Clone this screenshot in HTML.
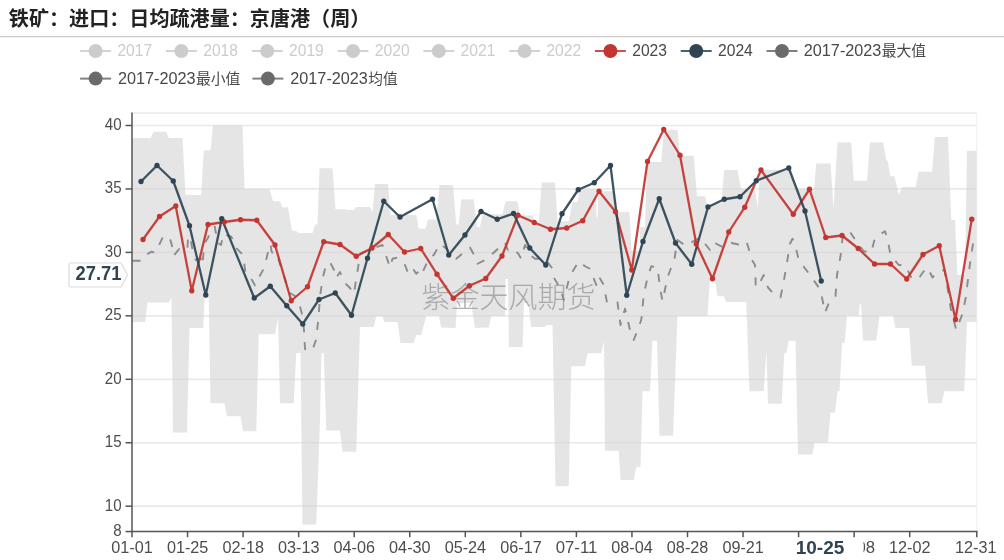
<!DOCTYPE html>
<html lang="zh"><head><meta charset="utf-8"><title>铁矿：进口：日均疏港量：京唐港（周）</title>
<style>
html,body{margin:0;padding:0;background:#fff;}
body{width:1004px;height:560px;overflow:hidden;font-family:"Liberation Sans", "Noto Sans CJK SC", sans-serif;}
svg{display:block;}
text{font-family:"Liberation Sans", "Noto Sans CJK SC", sans-serif;}
.ax{font-size:16.4px;fill:#4d4d4d;}
.lg{font-size:16.4px;fill:#484848;}
.lgo{font-size:16.4px;fill:#ccc;}
</style></head><body>
<svg width="1004" height="560" viewBox="0 0 1004 560">
<rect width="1004" height="560" fill="#fff"/>
<text x="8.8" y="25.6" font-size="20" font-weight="bold" fill="#222" textLength="361.5" lengthAdjust="spacingAndGlyphs">铁矿：进口：日均疏港量：京唐港（周）</text>
<rect x="0" y="36" width="1004" height="1.25" fill="#ccc"/>
<g opacity="1"><line x1="80.1" y1="51" x2="111.1" y2="51" stroke="#ccc" stroke-width="2" opacity="0.85"/><circle cx="95.6" cy="51" r="7" fill="#ccc"/></g>
<text x="117.4" y="56.0" class="lgo" textLength="34.8" lengthAdjust="spacingAndGlyphs">2017</text>
<g opacity="1"><line x1="165.9" y1="51" x2="196.9" y2="51" stroke="#ccc" stroke-width="2" opacity="0.85"/><circle cx="181.4" cy="51" r="7" fill="#ccc"/></g>
<text x="203.2" y="56.0" class="lgo" textLength="34.8" lengthAdjust="spacingAndGlyphs">2018</text>
<g opacity="1"><line x1="251.7" y1="51" x2="282.7" y2="51" stroke="#ccc" stroke-width="2" opacity="0.85"/><circle cx="267.2" cy="51" r="7" fill="#ccc"/></g>
<text x="289.0" y="56.0" class="lgo" textLength="34.8" lengthAdjust="spacingAndGlyphs">2019</text>
<g opacity="1"><line x1="337.5" y1="51" x2="368.5" y2="51" stroke="#ccc" stroke-width="2" opacity="0.85"/><circle cx="353.0" cy="51" r="7" fill="#ccc"/></g>
<text x="374.8" y="56.0" class="lgo" textLength="34.8" lengthAdjust="spacingAndGlyphs">2020</text>
<g opacity="1"><line x1="423.3" y1="51" x2="454.3" y2="51" stroke="#ccc" stroke-width="2" opacity="0.85"/><circle cx="438.8" cy="51" r="7" fill="#ccc"/></g>
<text x="460.6" y="56.0" class="lgo" textLength="34.8" lengthAdjust="spacingAndGlyphs">2021</text>
<g opacity="1"><line x1="509.1" y1="51" x2="540.1" y2="51" stroke="#ccc" stroke-width="2" opacity="0.85"/><circle cx="524.6" cy="51" r="7" fill="#ccc"/></g>
<text x="546.4" y="56.0" class="lgo" textLength="34.8" lengthAdjust="spacingAndGlyphs">2022</text>
<g opacity="1"><line x1="594.9" y1="51" x2="625.9" y2="51" stroke="#c23531" stroke-width="2" opacity="0.85"/><circle cx="610.4" cy="51" r="7" fill="#c23531"/></g>
<text x="632.2" y="56.0" class="lg" textLength="34.8" lengthAdjust="spacingAndGlyphs">2023</text>
<g opacity="1"><line x1="680.7" y1="51" x2="711.7" y2="51" stroke="#2f4554" stroke-width="2" opacity="0.85"/><circle cx="696.2" cy="51" r="7" fill="#2f4554"/></g>
<text x="718.0" y="56.0" class="lg" textLength="34.8" lengthAdjust="spacingAndGlyphs">2024</text>
<g opacity="1"><line x1="766.5" y1="51" x2="797.5" y2="51" stroke="#6a6a6a" stroke-width="2" opacity="0.85"/><circle cx="782.0" cy="51" r="7" fill="#6a6a6a"/></g>
<text x="803.8" y="56.0" class="lg" textLength="77.6" lengthAdjust="spacingAndGlyphs">2017-2023</text><text x="881.7" y="56.0" class="lg" style="font-size:15px" textLength="44.4" lengthAdjust="spacingAndGlyphs">最大值</text>
<g opacity="1"><line x1="80.1" y1="78.6" x2="111.1" y2="78.6" stroke="#6a6a6a" stroke-width="2" opacity="0.85"/><circle cx="95.6" cy="78.6" r="7" fill="#6a6a6a"/></g>
<text x="118.0" y="83.8" class="lg" textLength="77.6" lengthAdjust="spacingAndGlyphs">2017-2023</text><text x="195.9" y="83.8" class="lg" style="font-size:15px" textLength="44.4" lengthAdjust="spacingAndGlyphs">最小值</text>
<g opacity="1"><line x1="252.4" y1="78.6" x2="283.4" y2="78.6" stroke="#6a6a6a" stroke-width="2" opacity="0.85"/><circle cx="267.9" cy="78.6" r="7" fill="#6a6a6a"/></g>
<text x="290.3" y="83.8" class="lg" textLength="77.6" lengthAdjust="spacingAndGlyphs">2017-2023</text><text x="368.2" y="83.8" class="lg" style="font-size:15px" textLength="29.4" lengthAdjust="spacingAndGlyphs">均值</text>
<line x1="132" y1="113.00" x2="976.8" y2="113.00" stroke="#e9e9e9" stroke-width="1.7"/>
<line x1="132" y1="125.50" x2="976.8" y2="125.50" stroke="#e9e9e9" stroke-width="1.7"/>
<line x1="132" y1="188.95" x2="976.8" y2="188.95" stroke="#e9e9e9" stroke-width="1.7"/>
<line x1="132" y1="252.40" x2="976.8" y2="252.40" stroke="#e9e9e9" stroke-width="1.7"/>
<line x1="132" y1="315.85" x2="976.8" y2="315.85" stroke="#e9e9e9" stroke-width="1.7"/>
<line x1="132" y1="379.30" x2="976.8" y2="379.30" stroke="#e9e9e9" stroke-width="1.7"/>
<line x1="132" y1="442.75" x2="976.8" y2="442.75" stroke="#e9e9e9" stroke-width="1.7"/>
<line x1="132" y1="506.20" x2="976.8" y2="506.20" stroke="#e9e9e9" stroke-width="1.7"/>
<line x1="976.8" y1="113" x2="976.8" y2="531.5" stroke="#f3f3f3" stroke-width="1.3"/>
<polygon points="132.00,138.00 150.50,138.00 153.75,131.75 166.25,131.75 168.75,138.00 182.50,138.00 185.50,195.00 201.25,195.00 203.75,150.50 210.50,150.50 213.00,125.50 242.50,125.50 244.50,189.00 269.50,189.00 273.00,201.25 280.00,201.25 282.50,207.50 288.00,207.50 292.00,230.75 296.25,230.75 298.00,233.00 312.50,233.00 315.00,224.50 317.50,224.50 319.50,168.25 332.50,168.25 335.50,209.25 345.00,209.25 347.50,210.00 353.75,210.00 356.25,207.00 370.00,207.00 372.50,212.50 375.00,184.00 388.00,184.00 390.50,215.00 416.25,215.00 418.75,228.75 425.50,228.75 428.00,219.50 436.25,219.50 439.50,185.00 453.00,185.00 456.25,224.50 458.75,224.50 461.25,199.50 473.75,199.50 477.00,226.75 480.00,226.75 482.50,214.25 502.50,214.25 505.50,201.25 517.50,201.25 520.00,215.50 532.50,215.50 535.00,222.50 538.75,222.50 541.75,182.50 555.00,182.50 557.50,221.25 568.75,221.25 572.50,202.00 577.50,202.00 580.00,189.00 595.60,189.00 596.50,217.50 597.50,217.50 598.50,191.25 613.75,191.25 616.90,212.00 629.40,212.00 631.50,251.00 639.50,251.00 640.20,227.00 645.00,227.00 647.00,162.00 661.25,162.00 663.75,130.00 677.50,130.00 680.00,155.75 693.75,155.75 697.00,196.25 705.00,196.25 707.50,205.00 721.25,203.00 724.25,170.00 737.50,170.00 741.00,188.50 754.75,188.50 757.75,207.75 760.00,170.00 790.00,170.00 796.00,189.00 814.00,189.00 816.25,163.50 830.50,163.50 833.50,207.75 837.50,142.50 851.25,142.50 853.75,180.75 867.00,180.75 870.00,142.50 883.25,142.50 886.25,160.50 887.50,160.50 890.50,176.25 894.50,176.25 898.75,195.00 902.50,187.00 915.50,187.00 918.75,171.75 932.00,171.75 935.00,137.00 948.00,137.00 951.25,220.00 955.00,220.00 957.50,275.00 965.00,275.00 967.00,150.75 976.50,150.75 976.50,322.00 967.00,322.00 964.25,391.25 944.25,391.25 941.75,403.25 928.00,403.25 925.00,365.75 911.75,365.75 909.25,328.00 895.50,328.00 893.00,315.50 879.50,315.50 876.25,340.50 863.00,340.50 861.00,303.75 860.00,303.75 858.75,315.50 847.00,315.50 844.50,343.00 842.00,343.00 839.50,391.25 837.50,391.25 835.00,412.50 830.50,412.50 828.00,442.50 814.50,442.50 812.50,454.50 798.00,454.50 795.50,340.75 788.75,340.75 786.25,353.25 784.25,353.25 781.75,403.75 768.00,403.75 766.50,353.25 766.25,353.25 763.75,391.25 749.50,391.25 746.25,302.00 726.25,302.00 723.75,296.25 717.50,296.25 715.00,280.00 710.00,280.00 707.50,316.00 677.50,316.00 673.00,435.75 659.50,435.75 657.00,340.75 652.50,340.75 650.00,391.25 642.50,391.25 640.50,467.00 636.25,467.00 633.75,480.00 620.50,480.00 618.75,450.75 605.00,450.75 604.00,341.00 601.25,353.25 587.50,353.25 585.00,366.25 571.25,366.25 568.75,486.25 555.50,486.25 552.50,325.00 546.25,325.00 545.00,327.00 531.00,327.00 528.50,303.00 524.00,303.00 522.50,347.00 509.00,347.00 508.00,279.00 505.50,279.00 505.00,316.00 491.25,316.00 488.75,327.50 475.00,328.00 471.25,303.00 457.00,303.00 455.60,328.00 441.25,327.50 438.75,315.50 426.25,315.50 421.25,335.00 416.25,335.00 413.75,343.00 400.50,343.00 397.50,322.00 384.25,322.00 382.50,316.25 376.25,316.25 373.75,327.00 360.00,327.00 356.25,451.75 342.50,451.75 340.00,430.50 326.25,430.50 323.75,353.00 321.50,353.00 320.00,420.00 316.25,524.50 302.50,524.50 300.50,353.00 296.25,353.00 293.75,403.25 280.00,403.25 278.00,317.50 275.00,334.25 258.75,334.25 256.25,431.25 243.00,431.25 240.50,416.25 227.00,416.25 224.50,403.25 210.50,403.25 208.75,298.00 204.50,298.00 203.25,328.00 189.50,328.00 187.00,432.50 173.00,432.50 171.50,298.00 171.25,298.00 168.75,302.50 147.50,302.50 145.00,322.00 132.00,322.00" fill="#d4d4d4" fill-opacity="0.6"/>
<polyline points="132.50,260.75 141.60,260.75 144.10,255.80 146.60,254.60 151.60,251.60 155.00,252.90 157.40,249.00 159.90,243.30 163.30,236.10 166.60,235.80 170.40,240.00 172.40,247.40 173.60,255.80 179.10,249.10 183.20,251.30 187.40,248.30 188.20,235.80 190.70,240.00 193.20,253.30 195.70,259.90 200.70,258.30 202.40,264.90 204.00,247.40 205.70,241.60 208.20,237.50 209.80,231.60 211.80,229.10 214.80,226.70 216.50,236.60 218.00,243.00 221.00,245.00 223.00,236.00 224.00,233.30 228.00,235.80 231.00,236.50 234.00,241.60 235.60,247.40 241.40,253.30 243.90,260.75 245.60,274.00 249.80,278.20 252.00,280.00 255.00,285.50 256.40,284.90 258.90,277.40 263.10,269.90 265.60,262.40 268.10,251.60 270.60,244.10 271.40,250.80 273.90,255.80 277.20,255.00 279.70,263.20 283.00,273.20 285.50,280.70 288.00,289.90 290.00,293.00 295.00,296.00 299.00,303.00 302.00,314.00 304.00,330.00 305.00,349.00 312.00,351.00 316.00,340.00 318.50,318.00 320.00,296.00 323.00,277.00 326.00,265.00 330.00,262.00 334.00,270.00 336.00,278.00 340.00,272.00 344.00,282.00 350.00,288.00 354.00,294.00 356.00,280.00 358.00,268.00 360.00,253.75 372.00,248.75 382.50,245.00 385.00,252.50 390.00,267.50 392.50,258.75 397.50,257.50 405.00,265.00 408.75,275.00 413.75,270.00 416.25,273.75 421.25,268.75 422.50,272.50 428.75,258.75 433.75,255.00 440.00,243.75 445.00,247.50 453.75,256.25 456.25,258.75 465.00,251.25 470.00,247.50 476.25,258.75 477.50,263.75 487.50,258.75 492.50,253.75 505.00,242.50 508.75,252.50 512.50,253.75 517.50,252.50 521.25,258.75 525.00,245.00 530.00,255.00 535.00,258.75 545.00,258.75 552.50,268.75 553.75,277.50 560.00,287.50 563.75,300.00 568.75,280.00 571.25,273.75 578.75,261.25 585.00,266.25 590.00,268.75 596.25,285.00 598.75,276.25 603.75,285.00 607.00,302.50 617.50,302.50 620.50,325.00 625.00,308.75 630.00,330.00 633.75,340.00 641.25,320.00 643.75,295.00 647.50,277.50 651.25,266.25 657.50,267.50 660.00,287.50 662.50,301.25 667.50,277.50 674.50,258.75 677.50,240.00 686.25,246.25 691.25,242.50 700.00,237.50 710.00,250.00 713.75,242.50 723.75,247.50 731.25,243.00 738.75,244.50 746.25,241.25 748.75,248.75 751.25,258.75 755.00,265.00 755.75,285.00 757.50,287.50 763.75,275.00 768.00,287.50 772.50,292.50 780.50,297.50 783.75,281.25 787.00,262.50 790.00,243.75 792.50,238.75 795.00,244.50 798.75,260.00 810.00,275.00 820.50,290.00 825.00,312.50 829.50,301.25 835.50,296.25 837.00,275.00 840.50,256.25 842.50,238.75 847.50,232.50 848.75,230.00 857.00,242.50 863.75,251.25 871.25,252.50 875.00,237.50 885.00,231.25 887.50,238.75 890.50,255.00 898.75,265.00 905.00,265.00 911.25,277.50 917.50,280.00 923.75,271.25 927.50,267.50 932.50,277.50 937.50,272.00 944.50,270.00 947.50,287.50 950.75,308.75 956.25,330.00 962.50,313.75 965.75,297.50 968.25,277.50 970.75,257.50 973.25,242.50 976.25,245.00" fill="none" stroke="#8c8c8c" stroke-width="1.9" stroke-dasharray="8 10" stroke-linejoin="round"/>
<text x="508.5" y="308.3" font-size="29" font-weight="300" fill="#8a8a8a" fill-opacity="0.66" text-anchor="middle">紫金天风期货</text>
<polyline points="143.00,239.50 159.50,216.50 175.75,206.00 191.75,290.75 208.00,224.50 224.25,222.00 240.50,219.75 256.75,220.25 275.00,245.00 291.25,300.75 307.50,286.75 323.75,241.75 340.00,244.50 356.25,256.25 372.00,248.00 388.25,234.50 404.50,252.00 420.75,248.50 437.00,274.25 453.25,298.25 469.50,285.75 485.75,278.50 502.00,256.00 518.00,215.25 534.25,222.50 550.50,229.25 566.75,228.00 582.75,220.75 599.00,191.25 615.50,211.75 631.75,270.00 647.50,161.50 663.75,129.50 680.00,155.25 696.25,244.00 712.50,278.75 728.75,232.00 744.75,207.25 761.00,170.00 793.25,214.25 809.50,189.25 825.75,237.50 842.00,235.50 858.25,248.50 874.50,264.00 890.50,264.00 906.75,279.00 923.00,254.50 939.25,245.75 955.50,319.50 971.75,219.25" fill="none" stroke="#c23531" stroke-width="2.3" stroke-opacity="0.92" stroke-linejoin="round" stroke-linecap="round"/>
<polyline points="141.00,181.50 157.00,165.50 173.25,181.00 189.50,225.75 205.75,295.00 221.75,218.75 254.25,298.00 270.25,286.25 286.75,305.75 302.75,324.00 319.00,299.50 335.25,293.00 351.50,315.25 367.50,258.25 383.75,201.25 400.00,217.00 432.50,199.25 448.75,255.00 465.00,235.00 481.00,211.50 497.25,219.25 513.50,213.50 529.75,248.00 545.75,265.00 562.00,213.75 578.25,189.75 594.25,182.75 610.50,165.50 626.75,295.25 643.00,241.50 659.25,198.75 675.50,243.00 691.75,264.25 708.00,207.00 724.25,199.25 740.00,196.75 756.25,180.75 788.75,168.00 805.00,211.00 821.25,281.00" fill="none" stroke="#2f4554" stroke-width="2.3" stroke-opacity="0.92" stroke-linejoin="round" stroke-linecap="round"/>
<circle cx="143.00" cy="239.50" r="2.65" fill="#c23531"/><circle cx="159.50" cy="216.50" r="2.65" fill="#c23531"/><circle cx="175.75" cy="206.00" r="2.65" fill="#c23531"/><circle cx="191.75" cy="290.75" r="2.65" fill="#c23531"/><circle cx="208.00" cy="224.50" r="2.65" fill="#c23531"/><circle cx="224.25" cy="222.00" r="2.65" fill="#c23531"/><circle cx="240.50" cy="219.75" r="2.65" fill="#c23531"/><circle cx="256.75" cy="220.25" r="2.65" fill="#c23531"/><circle cx="275.00" cy="245.00" r="2.65" fill="#c23531"/><circle cx="291.25" cy="300.75" r="2.65" fill="#c23531"/><circle cx="307.50" cy="286.75" r="2.65" fill="#c23531"/><circle cx="323.75" cy="241.75" r="2.65" fill="#c23531"/><circle cx="340.00" cy="244.50" r="2.65" fill="#c23531"/><circle cx="356.25" cy="256.25" r="2.65" fill="#c23531"/><circle cx="372.00" cy="248.00" r="2.65" fill="#c23531"/><circle cx="388.25" cy="234.50" r="2.65" fill="#c23531"/><circle cx="404.50" cy="252.00" r="2.65" fill="#c23531"/><circle cx="420.75" cy="248.50" r="2.65" fill="#c23531"/><circle cx="437.00" cy="274.25" r="2.65" fill="#c23531"/><circle cx="453.25" cy="298.25" r="2.65" fill="#c23531"/><circle cx="469.50" cy="285.75" r="2.65" fill="#c23531"/><circle cx="485.75" cy="278.50" r="2.65" fill="#c23531"/><circle cx="502.00" cy="256.00" r="2.65" fill="#c23531"/><circle cx="518.00" cy="215.25" r="2.65" fill="#c23531"/><circle cx="534.25" cy="222.50" r="2.65" fill="#c23531"/><circle cx="550.50" cy="229.25" r="2.65" fill="#c23531"/><circle cx="566.75" cy="228.00" r="2.65" fill="#c23531"/><circle cx="582.75" cy="220.75" r="2.65" fill="#c23531"/><circle cx="599.00" cy="191.25" r="2.65" fill="#c23531"/><circle cx="615.50" cy="211.75" r="2.65" fill="#c23531"/><circle cx="631.75" cy="270.00" r="2.65" fill="#c23531"/><circle cx="647.50" cy="161.50" r="2.65" fill="#c23531"/><circle cx="663.75" cy="129.50" r="2.65" fill="#c23531"/><circle cx="680.00" cy="155.25" r="2.65" fill="#c23531"/><circle cx="696.25" cy="244.00" r="2.65" fill="#c23531"/><circle cx="712.50" cy="278.75" r="2.65" fill="#c23531"/><circle cx="728.75" cy="232.00" r="2.65" fill="#c23531"/><circle cx="744.75" cy="207.25" r="2.65" fill="#c23531"/><circle cx="761.00" cy="170.00" r="2.65" fill="#c23531"/><circle cx="793.25" cy="214.25" r="2.65" fill="#c23531"/><circle cx="809.50" cy="189.25" r="2.65" fill="#c23531"/><circle cx="825.75" cy="237.50" r="2.65" fill="#c23531"/><circle cx="842.00" cy="235.50" r="2.65" fill="#c23531"/><circle cx="858.25" cy="248.50" r="2.65" fill="#c23531"/><circle cx="874.50" cy="264.00" r="2.65" fill="#c23531"/><circle cx="890.50" cy="264.00" r="2.65" fill="#c23531"/><circle cx="906.75" cy="279.00" r="2.65" fill="#c23531"/><circle cx="923.00" cy="254.50" r="2.65" fill="#c23531"/><circle cx="939.25" cy="245.75" r="2.65" fill="#c23531"/><circle cx="955.50" cy="319.50" r="2.65" fill="#c23531"/><circle cx="971.75" cy="219.25" r="2.65" fill="#c23531"/>
<circle cx="141.00" cy="181.50" r="2.65" fill="#2f4554"/><circle cx="157.00" cy="165.50" r="2.65" fill="#2f4554"/><circle cx="173.25" cy="181.00" r="2.65" fill="#2f4554"/><circle cx="189.50" cy="225.75" r="2.65" fill="#2f4554"/><circle cx="205.75" cy="295.00" r="2.65" fill="#2f4554"/><circle cx="221.75" cy="218.75" r="2.65" fill="#2f4554"/><circle cx="254.25" cy="298.00" r="2.65" fill="#2f4554"/><circle cx="270.25" cy="286.25" r="2.65" fill="#2f4554"/><circle cx="286.75" cy="305.75" r="2.65" fill="#2f4554"/><circle cx="302.75" cy="324.00" r="2.65" fill="#2f4554"/><circle cx="319.00" cy="299.50" r="2.65" fill="#2f4554"/><circle cx="335.25" cy="293.00" r="2.65" fill="#2f4554"/><circle cx="351.50" cy="315.25" r="2.65" fill="#2f4554"/><circle cx="367.50" cy="258.25" r="2.65" fill="#2f4554"/><circle cx="383.75" cy="201.25" r="2.65" fill="#2f4554"/><circle cx="400.00" cy="217.00" r="2.65" fill="#2f4554"/><circle cx="432.50" cy="199.25" r="2.65" fill="#2f4554"/><circle cx="448.75" cy="255.00" r="2.65" fill="#2f4554"/><circle cx="465.00" cy="235.00" r="2.65" fill="#2f4554"/><circle cx="481.00" cy="211.50" r="2.65" fill="#2f4554"/><circle cx="497.25" cy="219.25" r="2.65" fill="#2f4554"/><circle cx="513.50" cy="213.50" r="2.65" fill="#2f4554"/><circle cx="529.75" cy="248.00" r="2.65" fill="#2f4554"/><circle cx="545.75" cy="265.00" r="2.65" fill="#2f4554"/><circle cx="562.00" cy="213.75" r="2.65" fill="#2f4554"/><circle cx="578.25" cy="189.75" r="2.65" fill="#2f4554"/><circle cx="594.25" cy="182.75" r="2.65" fill="#2f4554"/><circle cx="610.50" cy="165.50" r="2.65" fill="#2f4554"/><circle cx="626.75" cy="295.25" r="2.65" fill="#2f4554"/><circle cx="643.00" cy="241.50" r="2.65" fill="#2f4554"/><circle cx="659.25" cy="198.75" r="2.65" fill="#2f4554"/><circle cx="675.50" cy="243.00" r="2.65" fill="#2f4554"/><circle cx="691.75" cy="264.25" r="2.65" fill="#2f4554"/><circle cx="708.00" cy="207.00" r="2.65" fill="#2f4554"/><circle cx="724.25" cy="199.25" r="2.65" fill="#2f4554"/><circle cx="740.00" cy="196.75" r="2.65" fill="#2f4554"/><circle cx="756.25" cy="180.75" r="2.65" fill="#2f4554"/><circle cx="788.75" cy="168.00" r="2.65" fill="#2f4554"/><circle cx="805.00" cy="211.00" r="2.65" fill="#2f4554"/><circle cx="821.25" cy="281.00" r="2.65" fill="#2f4554"/>
<line x1="132" y1="112.5" x2="132" y2="532.1" stroke="#555" stroke-width="1.5"/>
<line x1="131.3" y1="531.5" x2="977.5" y2="531.5" stroke="#555" stroke-width="1.5"/>
<line x1="125.5" y1="125.50" x2="132" y2="125.50" stroke="#555" stroke-width="1.5"/>
<text x="121.6" y="129.80" class="ax" text-anchor="end" textLength="16.8" lengthAdjust="spacingAndGlyphs">40</text>
<line x1="125.5" y1="188.95" x2="132" y2="188.95" stroke="#555" stroke-width="1.5"/>
<text x="121.6" y="193.25" class="ax" text-anchor="end" textLength="16.8" lengthAdjust="spacingAndGlyphs">35</text>
<line x1="125.5" y1="252.40" x2="132" y2="252.40" stroke="#555" stroke-width="1.5"/>
<text x="121.6" y="256.70" class="ax" text-anchor="end" textLength="16.8" lengthAdjust="spacingAndGlyphs">30</text>
<line x1="125.5" y1="315.85" x2="132" y2="315.85" stroke="#555" stroke-width="1.5"/>
<text x="121.6" y="320.15" class="ax" text-anchor="end" textLength="16.8" lengthAdjust="spacingAndGlyphs">25</text>
<line x1="125.5" y1="379.30" x2="132" y2="379.30" stroke="#555" stroke-width="1.5"/>
<text x="121.6" y="383.60" class="ax" text-anchor="end" textLength="16.8" lengthAdjust="spacingAndGlyphs">20</text>
<line x1="125.5" y1="442.75" x2="132" y2="442.75" stroke="#555" stroke-width="1.5"/>
<text x="121.6" y="447.05" class="ax" text-anchor="end" textLength="16.8" lengthAdjust="spacingAndGlyphs">15</text>
<line x1="125.5" y1="506.20" x2="132" y2="506.20" stroke="#555" stroke-width="1.5"/>
<text x="121.6" y="510.50" class="ax" text-anchor="end" textLength="16.8" lengthAdjust="spacingAndGlyphs">10</text>
<line x1="125.5" y1="531.58" x2="132" y2="531.58" stroke="#555" stroke-width="1.5"/>
<text x="121.6" y="535.58" class="ax" text-anchor="end" textLength="8.4" lengthAdjust="spacingAndGlyphs">8</text>
<line x1="132.0" y1="531.5" x2="132.0" y2="537.2" stroke="#555" stroke-width="1.5"/>
<text x="132.1" y="552.9" class="ax" text-anchor="middle" textLength="41.5" lengthAdjust="spacingAndGlyphs">01-01</text>
<line x1="187.55" y1="531.5" x2="187.55" y2="537.2" stroke="#555" stroke-width="1.5"/>
<text x="187.65" y="552.9" class="ax" text-anchor="middle" textLength="41.5" lengthAdjust="spacingAndGlyphs">01-25</text>
<line x1="243.1" y1="531.5" x2="243.1" y2="537.2" stroke="#555" stroke-width="1.5"/>
<text x="243.2" y="552.9" class="ax" text-anchor="middle" textLength="41.5" lengthAdjust="spacingAndGlyphs">02-18</text>
<line x1="298.65" y1="531.5" x2="298.65" y2="537.2" stroke="#555" stroke-width="1.5"/>
<text x="298.75" y="552.9" class="ax" text-anchor="middle" textLength="41.5" lengthAdjust="spacingAndGlyphs">03-13</text>
<line x1="354.2" y1="531.5" x2="354.2" y2="537.2" stroke="#555" stroke-width="1.5"/>
<text x="354.3" y="552.9" class="ax" text-anchor="middle" textLength="41.5" lengthAdjust="spacingAndGlyphs">04-06</text>
<line x1="409.75" y1="531.5" x2="409.75" y2="537.2" stroke="#555" stroke-width="1.5"/>
<text x="409.85" y="552.9" class="ax" text-anchor="middle" textLength="41.5" lengthAdjust="spacingAndGlyphs">04-30</text>
<line x1="465.3" y1="531.5" x2="465.3" y2="537.2" stroke="#555" stroke-width="1.5"/>
<text x="465.40000000000003" y="552.9" class="ax" text-anchor="middle" textLength="41.5" lengthAdjust="spacingAndGlyphs">05-24</text>
<line x1="520.85" y1="531.5" x2="520.85" y2="537.2" stroke="#555" stroke-width="1.5"/>
<text x="520.95" y="552.9" class="ax" text-anchor="middle" textLength="41.5" lengthAdjust="spacingAndGlyphs">06-17</text>
<line x1="576.4" y1="531.5" x2="576.4" y2="537.2" stroke="#555" stroke-width="1.5"/>
<text x="576.5" y="552.9" class="ax" text-anchor="middle" textLength="41.5" lengthAdjust="spacingAndGlyphs">07-11</text>
<line x1="631.95" y1="531.5" x2="631.95" y2="537.2" stroke="#555" stroke-width="1.5"/>
<text x="632.0500000000001" y="552.9" class="ax" text-anchor="middle" textLength="41.5" lengthAdjust="spacingAndGlyphs">08-04</text>
<line x1="687.5" y1="531.5" x2="687.5" y2="537.2" stroke="#555" stroke-width="1.5"/>
<text x="687.6" y="552.9" class="ax" text-anchor="middle" textLength="41.5" lengthAdjust="spacingAndGlyphs">08-28</text>
<line x1="743.05" y1="531.5" x2="743.05" y2="537.2" stroke="#555" stroke-width="1.5"/>
<text x="743.15" y="552.9" class="ax" text-anchor="middle" textLength="41.5" lengthAdjust="spacingAndGlyphs">09-21</text>
<line x1="798.6" y1="531.5" x2="798.6" y2="537.2" stroke="#555" stroke-width="1.5"/>
<text x="798.7" y="552.9" class="ax" text-anchor="middle" textLength="41.5" lengthAdjust="spacingAndGlyphs">10-15</text>
<line x1="854.15" y1="531.5" x2="854.15" y2="537.2" stroke="#555" stroke-width="1.5"/>
<text x="854.25" y="552.9" class="ax" text-anchor="middle" textLength="41.5" lengthAdjust="spacingAndGlyphs">11-08</text>
<line x1="909.7" y1="531.5" x2="909.7" y2="537.2" stroke="#555" stroke-width="1.5"/>
<text x="909.8000000000001" y="552.9" class="ax" text-anchor="middle" textLength="41.5" lengthAdjust="spacingAndGlyphs">12-02</text>
<line x1="976.8" y1="531.5" x2="976.8" y2="537.2" stroke="#555" stroke-width="1.5"/>
<text x="975.8" y="552.9" class="ax" text-anchor="middle" textLength="41.5" lengthAdjust="spacingAndGlyphs">12-31</text>
<rect x="776" y="538.5" width="87.5" height="21.5" fill="#fff"/>
<text x="820" y="554" font-size="19" font-weight="bold" fill="#2f4554" text-anchor="middle" textLength="48.6" lengthAdjust="spacingAndGlyphs">10-25</text>
<path d="M70.5,263 H121 L127.5,275 L121,287 H70.5 Q69,287 69,285.5 V264.5 Q69,263 70.5,263 Z" fill="#fff" stroke="#dcdcdc" stroke-width="1.2"/>
<text x="98.5" y="280.4" font-size="19.5" font-weight="bold" fill="#2f4554" text-anchor="middle" textLength="45.8" lengthAdjust="spacingAndGlyphs">27.71</text>
</svg></body></html>
